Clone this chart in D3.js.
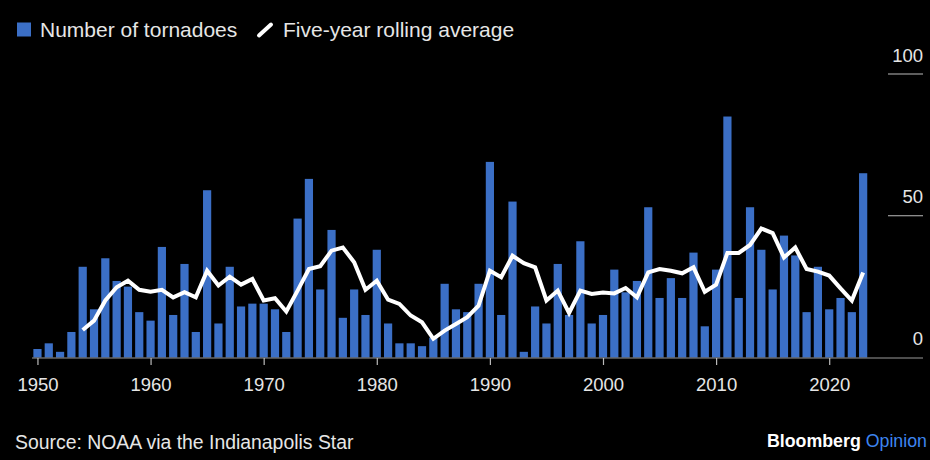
<!DOCTYPE html>
<html>
<head>
<meta charset="utf-8">
<script src="https://cdn.jsdelivr.net/npm/d3@7"></script>
<style>
  html, body { margin: 0; padding: 0; background: #000; }
  svg { display: block; font-family: "Liberation Sans", Arial, sans-serif; }
</style>
</head>
<body>
<svg id="chart" width="930" height="460"></svg>
<script>
// tornadoes per year
var years = d3.range(1950, 2024)
var tornadoes = [
  3, 5, 2, 9, 32, 17, 35, 27, 25, 16,
  13, 39, 15, 33, 9, 59, 12, 32, 18, 19,
  19, 17, 9, 49, 63, 24, 45, 14, 24, 15,
  38, 12, 5, 5, 4, 7, 26, 17, 16, 26,
  69, 15, 55, 2, 18, 12, 33, 15, 41, 12,
  15, 31, 23, 27, 53, 21, 28, 21, 37, 11,
  31, 85, 21, 53, 38, 24, 43, 36, 16, 32,
  17, 21, 16, 65
]
// five-year rolling average, 1954 onward
var avgYears = d3.range(1954, 2024)
var rollingAvg = [
  9.7, 13.0, 20.1, 24.8, 27.1, 23.9,
  23.2, 23.9, 21.2, 23.0, 21.2, 30.6, 25.4, 28.5, 25.7, 27.7,
  20.1, 20.9, 16.2, 23.6, 31.2, 32.2, 37.7, 38.8, 33.6, 23.9,
  27.1, 20.4, 18.9, 14.8, 12.4, 6.6, 9.5, 11.8, 14.2, 18.3,
  30.6, 28.3, 35.9, 33.3, 31.8, 20.1, 23.6, 15.7, 23.6, 22.4,
  22.9, 22.6, 24.5, 21.2, 30.0, 31.2, 30.6, 29.7, 31.8, 23.2,
  25.7, 36.9, 36.9, 39.7, 45.5, 43.9, 35.3, 38.8, 31.2, 30.3,
  28.9, 24.4, 20.1, 30.0
]
var yTicks = [0, 50, 100]
var xTicks = [1950, 1960, 1970, 1980, 1990, 2000, 2010, 2020]

var barColor = '#3b6fc6'

var svg = d3.select('#chart')
svg.append('rect').attr('width', 930).attr('height', 460).attr('fill', '#000')

var x = d3.scaleLinear().domain([1949.5, 2023.5]).range([31.8, 868.8])
var y = d3.scaleLinear().domain([0, 100]).range([357.5, 74])
var barW = 8.2

// short gridlines under the right-hand labels
var gy = svg.append('g')
gy.selectAll('line.grid')
  .data(yTicks.filter(function(d){ return d > 0 }))
  .enter().append('line')
    .attr('x1', 888).attr('x2', 923)
    .attr('y1', function(d){ return y(d) }).attr('y2', function(d){ return y(d) })
    .attr('stroke', '#bbb').attr('stroke-width', 1.2)
gy.selectAll('text')
  .data(yTicks)
  .enter().append('text')
    .attr('x', 923)
    .attr('y', function(d){ return y(d) - 12.5 })
    .attr('text-anchor', 'end')
    .attr('fill', '#e6e6e6')
    .style('font-size', '18.5px')
    .text(function(d){ return d })

// bars
svg.append('g').selectAll('rect')
  .data(years)
  .enter().append('rect')
    .attr('x', function(d){ return x(d) - barW/2 })
    .attr('y', function(d, i){ return y(tornadoes[i]) })
    .attr('width', barW)
    .attr('height', function(d, i){ return y(0) - y(tornadoes[i]) })
    .attr('fill', barColor)

// baseline + ticks
svg.append('line')
  .attr('x1', 32).attr('x2', 923)
  .attr('y1', y(0) + 0.5).attr('y2', y(0) + 0.5)
  .attr('stroke', '#999').attr('stroke-width', 1.2)

var xAxis = d3.axisBottom(x).tickValues(xTicks).tickFormat(d3.format('d')).tickSize(7).tickPadding(13)
var gx = svg.append('g').attr('transform', 'translate(0,' + (y(0) + 0.5) + ')').call(xAxis)
gx.select('.domain').remove()
gx.selectAll('line').attr('stroke', '#bbb').attr('stroke-width', 1.2)
gx.selectAll('text').attr('fill', '#e6e6e6').style('font-size', '18.5px').style('font-family', '"Liberation Sans", Arial, sans-serif')

// rolling average line
var line = d3.line()
  .x(function(d, i){ return x(avgYears[i]) })
  .y(function(d){ return y(d) })
svg.append('path')
  .datum(rollingAvg)
  .attr('d', line)
  .attr('fill', 'none')
  .attr('stroke', '#fff')
  .attr('stroke-width', 4)
  .attr('stroke-linejoin', 'miter')

// legend
var lg = svg.append('g')
lg.append('rect').attr('x', 17).attr('y', 22.5).attr('width', 14).attr('height', 14).attr('fill', barColor)
lg.append('text').attr('x', 40).attr('y', 37).attr('fill', '#e6e6e6').style('font-size', '21px').text('Number of tornadoes')
lg.append('line').attr('x1', 259).attr('y1', 35.5).attr('x2', 271).attr('y2', 24.5)
  .attr('stroke', '#fff').attr('stroke-width', 4).attr('stroke-linecap', 'round')
lg.append('text').attr('x', 283).attr('y', 37).attr('fill', '#e6e6e6').style('font-size', '21px').text('Five-year rolling average')

// footer
svg.append('text').attr('x', 15).attr('y', 449).attr('fill', '#e6e6e6').style('font-size', '19.4px')
  .text('Source: NOAA via the Indianapolis Star')
var brand = svg.append('text').attr('x', 927).attr('y', 447).attr('text-anchor', 'end').style('font-size', '17.8px')
brand.append('tspan').attr('fill', '#fff').style('font-weight', 'bold').text('Bloomberg ')
brand.append('tspan').attr('fill', '#3d85f0').text('Opinion')
</script>
</body>
</html>
